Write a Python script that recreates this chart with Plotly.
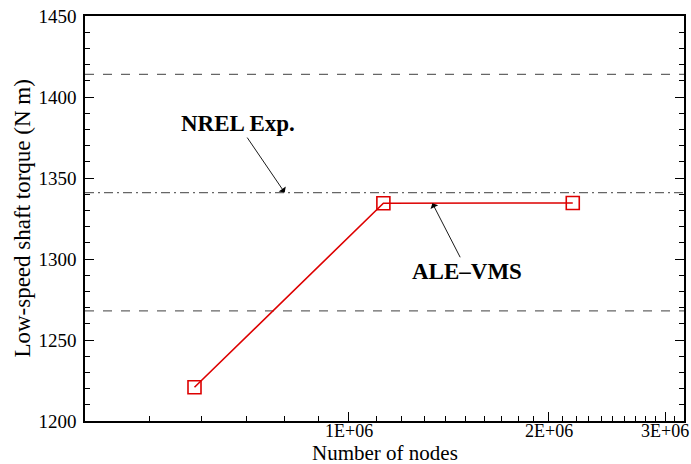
import math
import plotly.graph_objects as go

# Mesh refinement study: low-speed shaft torque vs. number of nodes
nodes = [585000, 1127000, 2175000]
torque = [1220.8, 1334.4, 1334.6]

# NREL experimental value and its band limits
nrel_mean = 1341
nrel_upper = 1414
nrel_lower = 1268

x_range = [4.0e5, 3.2e6]
x_major = [1e6, 2e6, 3e6]
x_major_text = ["1E+06", "2E+06", "3E+06"]
x_minor = [4e5, 5e5, 6e5, 7e5, 8e5, 9e5] + [k * 1e5 for k in range(11, 32) if k not in (20, 30)]

# label anchor points (where each arrow points)
nrel_arrow_x = 8.0e5
ale_arrow_x = 1.336e6

font_family = "Liberation Serif, Times New Roman, serif"

fig = go.Figure()

# reference lines (experiment mean and band)
for yv, dash in [(nrel_upper, "9px,9px"), (nrel_lower, "9px,9px"),
                 (nrel_mean, "9px,4px,2px,4px")]:
    fig.add_trace(go.Scatter(
        x=x_range, y=[yv, yv], mode="lines",
        line=dict(color="#666666", width=1.3, dash=dash),
        hoverinfo="skip", showlegend=False))

fig.add_trace(go.Scatter(
    x=nodes, y=torque, mode="lines+markers",
    line=dict(color="#dd0000", width=1.6),
    marker=dict(symbol="square-open", size=13, color="#dd0000",
                line=dict(width=1.6, color="#dd0000")),
    showlegend=False))

# x tick labels placed close under the axis line
tick_label_annotations = [
    dict(text=t, x=math.log10(v), y=-0.025, xref="x", yref="paper",
         xanchor="center", yanchor="middle", showarrow=False,
         font=dict(size=18))
    for v, t in zip(x_major, x_major_text)
]

fig.update_layout(
    width=691, height=464,
    margin=dict(l=85, r=7, t=16, b=43),
    paper_bgcolor="white", plot_bgcolor="white",
    font=dict(family=font_family, size=19, color="black"),
    xaxis=dict(
        type="log", range=[math.log10(x_range[0]), math.log10(x_range[1])],
        tickmode="array", tickvals=x_major, showticklabels=False,
        ticks="inside", ticklen=9, tickwidth=1, tickcolor="black",
        showline=True, linecolor="black", linewidth=1.5, mirror=True,
        showgrid=False, zeroline=False, automargin=False,
        minor=dict(tickmode="array", tickvals=x_minor, ticks="inside",
                   ticklen=5, tickwidth=1, tickcolor="black", showgrid=False),
    ),
    yaxis=dict(
        range=[1200, 1450], tickmode="linear", tick0=1200, dtick=50,
        ticks="inside", ticklen=9, tickwidth=1, tickcolor="black",
        showline=True, linecolor="black", linewidth=1.5, mirror="ticks",
        showgrid=False, zeroline=False, automargin=False,
        ticklabelstandoff=3,
        minor=dict(dtick=10, ticks="inside", ticklen=5, tickwidth=1,
                   tickcolor="black", showgrid=False),
        tickfont=dict(size=19),
    ),
    annotations=tick_label_annotations + [
        # axis titles
        dict(text="Number of nodes", xref="paper", yref="paper",
             x=0.5, y=-0.08, xanchor="center", yanchor="middle",
             showarrow=False, font=dict(size=21)),
        dict(text="Low-speed shaft torque (N m)", xref="paper", yref="paper",
             x=-0.105, y=0.5, xanchor="center", yanchor="middle",
             textangle=-90, showarrow=False, font=dict(size=23)),
        # line labels
        dict(x=math.log10(nrel_arrow_x), y=nrel_mean, xref="x", yref="y",
             text="<b>NREL Exp.</b>", showarrow=True,
             ax=-47, ay=-69,
             arrowhead=1, arrowsize=1.6, arrowwidth=0.9, arrowcolor="black",
             font=dict(size=23, family=font_family)),
        dict(x=math.log10(ale_arrow_x), y=torque[1], xref="x", yref="y",
             text="<b>ALE–VMS</b>", showarrow=True,
             ax=35, ay=68, arrowhead=1, arrowsize=1.6, arrowwidth=0.9,
             arrowcolor="black", font=dict(size=23, family=font_family)),
    ],
)

fig.write_html("out.html")
